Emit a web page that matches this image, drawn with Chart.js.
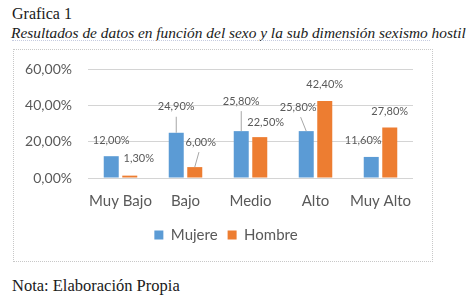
<!DOCTYPE html>
<html><head><meta charset="utf-8">
<script src="https://cdn.jsdelivr.net/npm/chart.js@4"></script>
<style>
html,body{margin:0;padding:0;background:#fff;}
body{width:475px;height:298px;position:relative;overflow:hidden;}
.serif{font-family:"Liberation Serif","Times New Roman",serif;color:#1a1a1a;position:absolute;white-space:nowrap;}
#t1{left:12px;top:5px;font-size:16px;}
#t2{left:11px;top:24px;font-size:15.4px;font-style:italic;}
#rule{position:absolute;left:12px;top:40px;width:418px;border-top:1px dotted #c5cbe0;}
#box{position:absolute;left:13px;top:49px;width:418px;height:211px;border:1px dotted #c8c8c8;}
#nota{left:12px;top:276px;font-size:16.5px;}
canvas{display:block;}
</style></head>
<body>
<div id="t1" class="serif">Grafica 1</div>
<div id="t2" class="serif">Resultados de datos en función del sexo y la sub dimensión sexismo hostil</div>
<div id="rule"></div>
<div id="box"><canvas id="c" width="418" height="211"></canvas></div>
<div id="nota" class="serif">Nota: Elaboración Propia</div>
<script>
const categories = ['Muy Bajo','Bajo','Medio','Alto','Muy Alto'];
const mujere = [12.0, 24.9, 25.8, 25.8, 11.6];
const hombre = [1.3, 6.0, 22.5, 42.4, 27.8];
const yTickLabels = ['0,00%','20,00%','40,00%','60,00%'];

// label placement (dx, dy from bar top centre, leader line flag)
const labelPlacement = [
  [[0,-16,0],[0,-26,1],[0,-30,1],[-8,-24,1],[-8,-16,0]],
  [[9,-17,0],[6,-25,1],[6,-15,0],[0,-17,0],[0,-16,0]]
];

const fmt = v => v.toFixed(2).replace('.', ',') + '%';
const FONT = 'Lato, "Liberation Sans", sans-serif';
const GREY = '#595959';

const dataLabels = {
  id: 'dataLabels',
  afterDatasetsDraw(chart) {
    const ctx = chart.ctx;
    ctx.save();
    ctx.font = '11px ' + FONT;
    ctx.fillStyle = GREY;
    ctx.textAlign = 'center';
    ctx.textBaseline = 'middle';
    chart.data.datasets.forEach((ds, di) => {
      const meta = chart.getDatasetMeta(di);
      meta.data.forEach((bar, i) => {
        const [dx, dy, lead] = labelPlacement[di][i];
        const lx = bar.x + dx, ly = bar.y + dy;
        if (lead) {
          ctx.strokeStyle = '#a6a6a6';
          ctx.lineWidth = 1;
          ctx.beginPath();
          ctx.moveTo(lx + (bar.x - lx) * 0.3, ly + 10);
          ctx.lineTo(bar.x, bar.y);
          ctx.stroke();
        }
        ctx.fillText(fmt(ds.data[i]), lx, ly);
      });
    });
    ctx.restore();
  }
};

new Chart(document.getElementById('c'), {
  type: 'bar',
  data: {
    labels: categories,
    datasets: [
      {label: 'Mujere', data: mujere, backgroundColor: '#5b9bd5', borderWidth: 0,
       categoryPercentage: 0.57, barPercentage: 0.81},
      {label: 'Hombre', data: hombre, backgroundColor: '#ed7d31', borderWidth: 0,
       categoryPercentage: 0.57, barPercentage: 0.81}
    ]
  },
  options: {
    responsive: false,
    animation: false,
    devicePixelRatio: 1,
    layout: {padding: {left: 6, right: 0, top: 19, bottom: 8.5}},
    plugins: {
      tooltip: {enabled: false},
      title: {display: false},
      legend: {
        position: 'bottom',
        labels: {
          boxWidth: 9, boxHeight: 9, padding: 10,
          color: GREY, font: {family: FONT, size: 15}
        }
      }
    },
    scales: {
      x: {
        grid: {display: false, drawTicks: false},
        border: {display: false},
        ticks: {color: GREY, font: {family: FONT, size: 15}, padding: 14,
                maxRotation: 0, minRotation: 0, autoSkip: false},
        afterFit(s) { s.height = 39.5; s.paddingLeft = 0; s.paddingRight = 0; }
      },
      y: {
        min: 0, max: 60,
        grid: {color: '#d4d4d4', drawTicks: false},
        border: {display: false},
        ticks: {
          stepSize: 20, padding: 16, color: GREY,
          font: {family: FONT, size: 14},
          callback: (v, i) => yTickLabels[i]
        },
        afterFit(s) { s.width = 68; s.paddingTop = 8; s.paddingBottom = 8; }
      },
      yRight: {
        position: 'right',
        min: 0, max: 60,
        grid: {display: false, drawTicks: false},
        border: {display: false},
        ticks: {display: false},
        afterFit(s) { s.width = 19; s.paddingTop = 0; s.paddingBottom = 0; }
      }
    }
  },
  plugins: [dataLabels]
});
</script>
</body></html>
